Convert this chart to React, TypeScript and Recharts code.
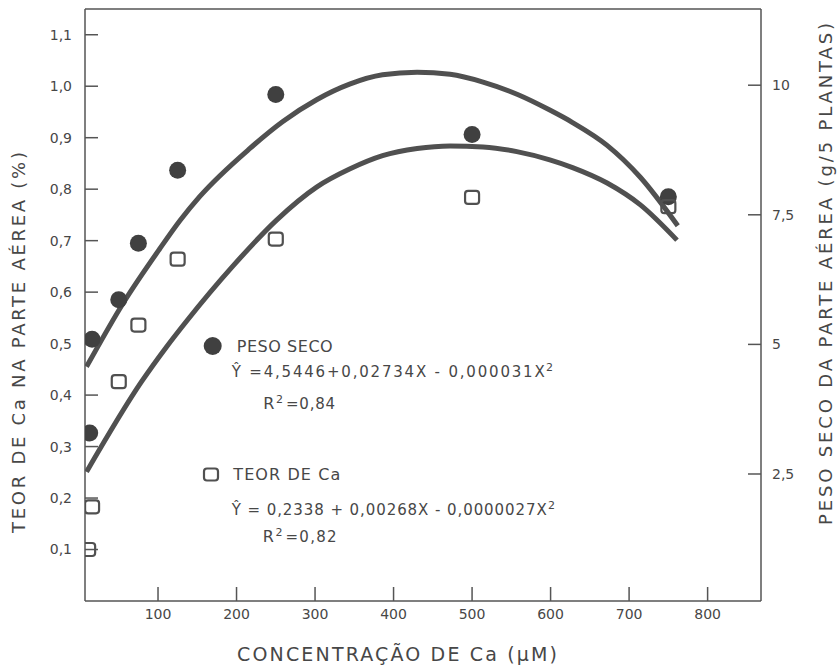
import React from 'react';
import { ComposedChart, Line, Scatter, XAxis, YAxis, ReferenceLine } from 'recharts';

// Observed points: dry weight (PESO SECO, right axis) and Ca content (TEOR DE Ca, left axis)
const pesoSecoX = [13, 16, 50, 75, 125, 250, 500, 750];
const pesoSecoY = [3.29, 5.1, 5.86, 6.95, 8.36, 9.82, 9.05, 7.85];
const teorX = [11, 16, 50, 75, 125, 250, 500, 750];
const teorY = [0.1, 0.183, 0.426, 0.536, 0.664, 0.703, 0.784, 0.766];

// Fitted curves
const pesoCurveX = [9, 55, 102, 128, 153, 217, 259, 302, 344, 386, 430, 472, 514, 558, 599, 628, 672, 714, 762];
const pesoCurveY = [4.57, 5.78, 6.84, 7.39, 7.85, 8.78, 9.3, 9.72, 10.02, 10.2, 10.25, 10.21, 10.06, 9.82, 9.52, 9.28, 8.84, 8.23, 7.29];
const teorCurveX = [9, 79, 111, 136, 195, 251, 302, 344, 386, 430, 472, 514, 557, 599, 628, 672, 714, 761];
const teorCurveY = [0.251, 0.426, 0.494, 0.543, 0.65, 0.74, 0.804, 0.839, 0.865, 0.879, 0.884, 0.882, 0.873, 0.857, 0.842, 0.812, 0.77, 0.701];

// Tick values
const xTicks = [100, 200, 300, 400, 500, 600, 700, 800];
const leftTicks = [0.1, 0.2, 0.3, 0.4, 0.5, 0.6, 0.7, 0.8, 0.9, 1.0, 1.1];
const rightTicks = [2.5, 5, 7.5, 10];

const zip = (xs: number[], ys: number[]) => xs.map((x, i) => ({ x, y: ys[i] }));
const pesoPts = zip(pesoSecoX, pesoSecoY);
const teorPts = zip(teorX, teorY);
const pesoCurve = zip(pesoCurveX, pesoCurveY);
const teorCurve = zip(teorCurveX, teorCurveY);

const INK = '#474747';
const AX = '#555';
const FONT = '"DejaVu Sans", sans-serif';

const Dot = (p: any) => <circle cx={p.cx} cy={p.cy} r={8.5} fill="#404040" />;
const Sq = (p: any) => (
  <rect x={p.cx - 7} y={p.cy - 6.5} width={14} height={13} rx={3} fill="none" stroke="#505050" strokeWidth={2.2} />
);

export default function App() {
  const tickStyle = { fontSize: 14, fill: INK, fontFamily: FONT };
  return (
    <div style={{ position: 'absolute', left: 0, top: 0, width: 839, height: 666, background: '#fff' }}>
      <ComposedChart width={839} height={666} margin={{ top: 9, right: 0, bottom: 0, left: 0 }}>
        <XAxis
          type="number"
          dataKey="x"
          domain={[7, 868]}
          allowDataOverflow
          ticks={xTicks}
          interval={0}
          height={65}
          tickSize={-14}
          tickMargin={22}
          tick={tickStyle}
          axisLine={{ stroke: AX, strokeWidth: 1.5 }}
          tickLine={{ stroke: AX, strokeWidth: 1.5 }}
        />
        <YAxis
          yAxisId="left"
          orientation="left"
          type="number"
          domain={[0, 1.15]}
          allowDataOverflow
          ticks={leftTicks}
          interval={0}
          width={85}
          tickSize={-13}
          tickMargin={26}
          tick={tickStyle}
          tickFormatter={(v: number) => v.toFixed(1).replace('.', ',')}
          axisLine={{ stroke: AX, strokeWidth: 1.5 }}
          tickLine={{ stroke: AX, strokeWidth: 1.5 }}
        />
        <YAxis
          yAxisId="right"
          orientation="right"
          type="number"
          domain={[0.05, 11.47]}
          allowDataOverflow
          ticks={rightTicks}
          interval={0}
          width={78}
          tickSize={-13}
          tickMargin={24}
          tick={tickStyle}
          tickFormatter={(v: number) => String(v).replace('.', ',')}
          axisLine={{ stroke: AX, strokeWidth: 1.5 }}
          tickLine={{ stroke: AX, strokeWidth: 1.5 }}
        />
        <ReferenceLine yAxisId="left" y={1.15} stroke={AX} strokeWidth={1.5} />
        <Line yAxisId="right" data={pesoCurve} dataKey="y" type="monotone" stroke="#505050" strokeWidth={5} dot={false} isAnimationActive={false} />
        <Line yAxisId="left" data={teorCurve} dataKey="y" type="monotone" stroke="#505050" strokeWidth={5} dot={false} isAnimationActive={false} />
        <Scatter yAxisId="right" data={pesoPts} dataKey="y" shape={Dot} isAnimationActive={false} />
        <Scatter yAxisId="left" data={teorPts} dataKey="y" shape={Sq} isAnimationActive={false} />
      </ComposedChart>
      <svg width={839} height={666} style={{ position: 'absolute', left: 0, top: 0, pointerEvents: 'none' }} fontFamily={FONT} fill={INK}>
        <text transform="translate(25,342.5) rotate(-90)" textAnchor="middle" fontSize={18} textLength={381} lengthAdjust="spacing">
          TEOR DE Ca NA PARTE AÉREA (%)
        </text>
        <text transform="translate(832,274) rotate(-90)" textAnchor="middle" fontSize={18} textLength={502} lengthAdjust="spacing">
          PESO SECO DA PARTE AÉREA (g/5 PLANTAS)
        </text>
        <text x={237} y={661} fontSize={19} textLength={320} lengthAdjust="spacing">
          CONCENTRAÇÃO DE Ca (µM)
        </text>

        <circle cx={212.7} cy={346} r={9} fill="#404040" />
        <text x={236.7} y={351.7} fontSize={16} textLength={96} lengthAdjust="spacing">PESO SECO</text>
        <text x={231.7} y={377} fontSize={15} textLength={313} lengthAdjust="spacing">Ŷ =4,5446+0,02734X - 0,000031X</text>
        <text x={546} y={371} fontSize={11}>2</text>
        <text x={263.3} y={409.3} fontSize={16}>R</text>
        <text x={276} y={403} fontSize={11}>2</text>
        <text x={286} y={409.3} fontSize={15} textLength={49} lengthAdjust="spacing">=0,84</text>

        <rect x={204} y={468.5} width={14} height={12} rx={3} fill="none" stroke="#505050" strokeWidth={2.2} />
        <text x={233.3} y={480} fontSize={16} textLength={107} lengthAdjust="spacing">TEOR DE Ca</text>
        <text x={231.7} y={515} fontSize={15} textLength={315} lengthAdjust="spacing">Ŷ = 0,2338 + 0,00268X - 0,0000027X</text>
        <text x={548} y={509} fontSize={11}>2</text>
        <text x={262.7} y={541.7} fontSize={16}>R</text>
        <text x={275.5} y={535.5} fontSize={11}>2</text>
        <text x={285.5} y={541.7} fontSize={15} textLength={51} lengthAdjust="spacing">=0,82</text>
      </svg>
    </div>
  );
}
